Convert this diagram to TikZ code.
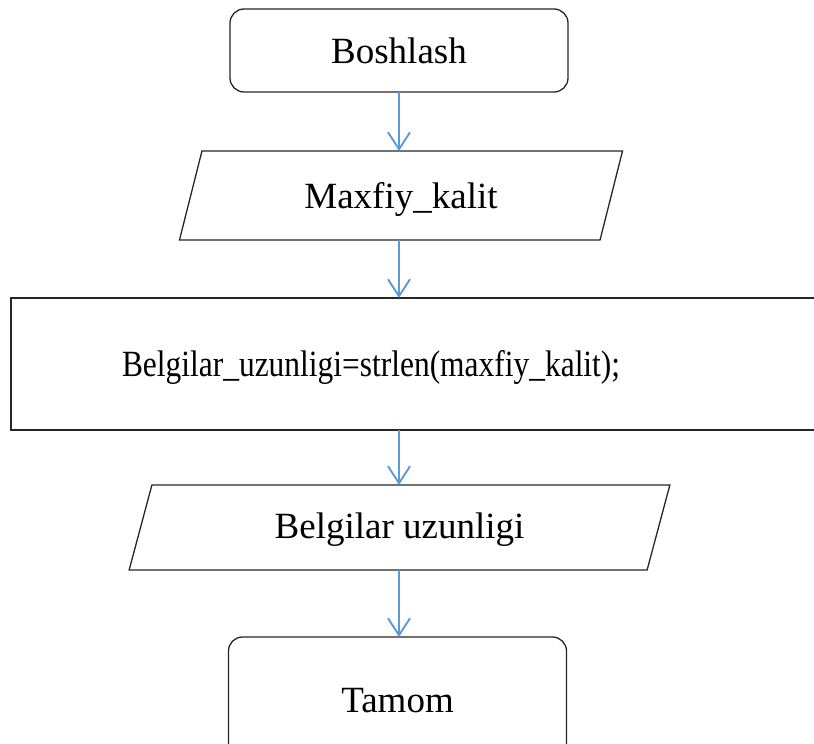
\documentclass[tikz,border=0pt]{standalone}
\usepackage{fontspec}
\setmainfont{Liberation Serif}
\usetikzlibrary{shapes.geometric,arrows.meta}

\definecolor{flowblue}{RGB}{91,155,213}

\begin{document}
\begin{tikzpicture}[x=1pt, y=-1pt,
  every node/.style={font=\fontsize{37}{44}\selectfont, draw=black!85,
    line width=1.3pt, outer sep=0pt},
  term/.style={rectangle, rounded corners=14pt,
    minimum width=338pt, minimum height=83pt},
  io/.style={trapezium, trapezium stretches=true,
    trapezium left angle=75.5, trapezium right angle=104.5},
  proc/.style={rectangle, align=left, text width=597pt, inner xsep=111pt},
  flow/.style={draw=flowblue, line width=1.9pt,
    -{Straight Barb[length=17pt,width=22pt]}}]

% page frame; the process box runs off the right edge
\useasboundingbox (0,0) rectangle (814,744);
\clip (0,0) rectangle (814,744);

% blocks, top to bottom
\node[term] (start) at (399,50.5) {Boshlash};
\node[io, minimum width=444pt, minimum height=89pt,
  text height=31pt, text depth=6pt] (kalit) at (401,195.5) {Maxfiy\_kalit};
\node[proc, minimum height=132pt, text height=30pt, text depth=6pt]
  (len) at (420.5,364)
  {\scalebox{0.85}[1]{Belgilar\_uzunligi=strlen(maxfiy\_kalit);}};
\node[io, minimum width=541pt, minimum height=85pt,
  trapezium left angle=74.9, trapezium right angle=105.1,
  text height=29pt, text depth=8pt] (out) at (399.5,527.5) {Belgilar uzunligi};
\node[term, minimum height=128pt] (stop) at (397.5,701) {Tamom};

% connectors
\draw[flow] (start.south) -- (start.south |- kalit.north);
\draw[flow] (start.south |- kalit.south) -- (start.south |- len.north);
\draw[flow] (start.south |- len.south) -- (start.south |- out.north);
\draw[flow] (start.south |- out.south) -- (start.south |- stop.north);
\end{tikzpicture}
\end{document}
